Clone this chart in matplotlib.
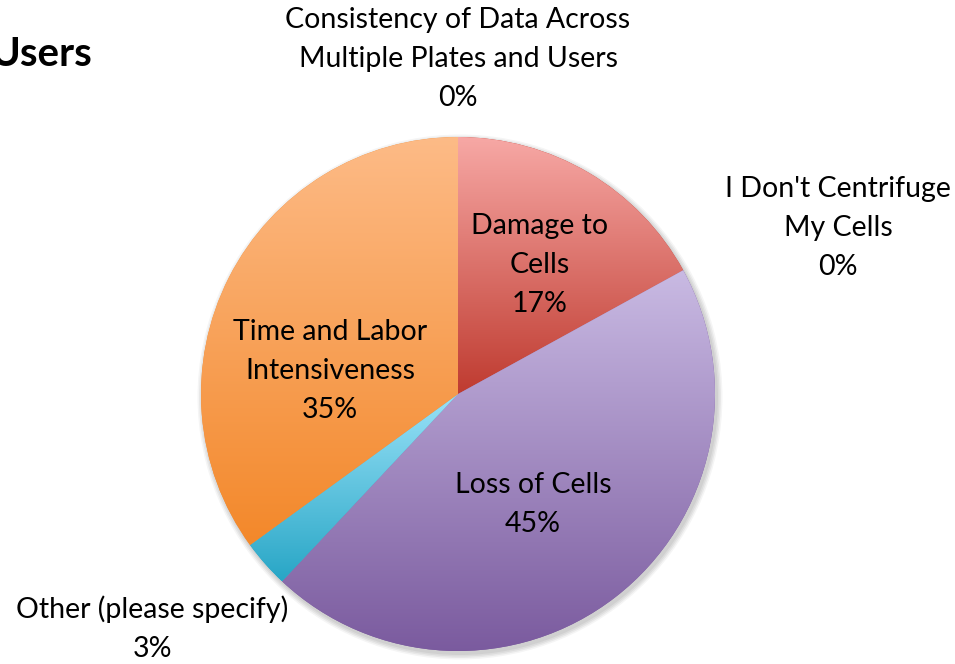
import matplotlib.pyplot as plt
import matplotlib.patches as mpatches
from matplotlib.colors import LinearSegmentedColormap
import numpy as np

# data
labels = ['Consistency of Data Across\nMultiple Plates and Users',
          'Damage to\nCells',
          "I Don't Centrifuge\nMy Cells",
          'Loss of Cells',
          'Other (please specify)',
          'Time and Labor\nIntensiveness']
values = [0, 17, 0, 45, 3, 35]
top_colors = ['#f7a8a5', '#f7a8a5', '#c9bae3', '#c9bae3', '#9ae2f8', '#fdbb87']
bottom_colors = ['#bf3b30', '#bf3b30', '#7a5a9e', '#7a5a9e', '#28a6c6', '#f3882a']

# label anchors in pixel space (x, y of top line centre)
label_pos = [(458, 20), (540, 226), (838, 189), (533, 485), (152, 609), (330, 332)]
line_h = 39

W, H = 955, 664
fig = plt.figure(figsize=(W / 100, H / 100), dpi=100)
ax = fig.add_axes([0, 0, 1, 1])

font = ['Lato', 'DejaVu Sans']
cx, cy, r = 458, H - 394, 257

# soft shadow behind the pie
for i, a in enumerate([0.05, 0.05, 0.05, 0.04]):
    ax.add_patch(mpatches.Circle((cx + 2, cy - 3), r + 1 + i * 1.5,
                                 color='black', alpha=a, lw=0, zorder=0))

wedges, _ = ax.pie(values, center=(cx, cy), radius=r, startangle=90,
                   counterclock=False, frame=True,
                   wedgeprops=dict(linewidth=0))

for w, v, c1, c2 in zip(wedges, values, top_colors, bottom_colors):
    if v == 0:
        continue
    w.set_facecolor(c2)
    verts = w.get_patch_transform().transform(w.get_path().vertices)
    x0, x1 = verts[:, 0].min(), verts[:, 0].max()
    y0, y1 = verts[:, 1].min(), verts[:, 1].max()
    cmap = LinearSegmentedColormap.from_list('g', [c2, c1])
    grad = np.linspace(0, 1, 256).reshape(-1, 1)
    im = ax.imshow(grad, cmap=cmap, origin='lower', aspect='auto',
                   extent=[x0, x1, y0, y1], zorder=2, interpolation='bilinear')
    im.set_clip_path(w)

ax.set_xlim(0, W)
ax.set_ylim(0, H)
ax.axis('off')

for lab, v, (x, y) in zip(labels, values, label_pos):
    n = lab.count('\n') + 2
    yc = y + (n - 1) * line_h / 2
    ax.text(x, H - yc, f'{lab}\n{v}%', ha='center', va='center',
            fontsize=20.5, family=font, linespacing=1.6, zorder=5)

ax.text(-10, H - 55, 'Users', ha='left', va='center', fontsize=29,
        fontweight='bold', family=font, zorder=5)

fig.savefig('out.png', dpi=100, facecolor='white')
